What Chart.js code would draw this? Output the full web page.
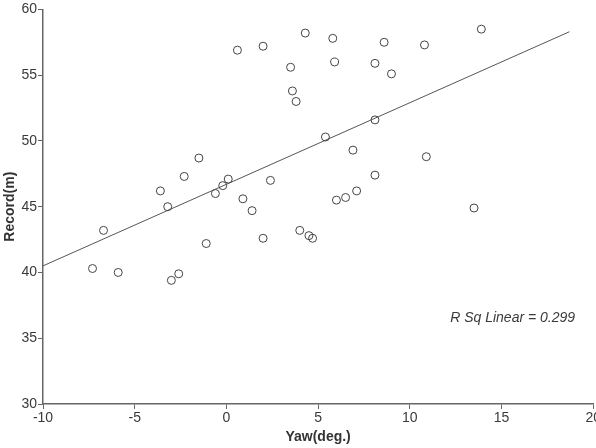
<!DOCTYPE html>
<html>
<head>
<meta charset="utf-8">
<script src="https://cdn.jsdelivr.net/npm/chart.js@4"></script>
<style>
  html, body { margin: 0; padding: 0; background: #fff; overflow: hidden; }
  #wrap { width: 602px; height: 448px; position: relative; }
</style>
</head>
<body>
<div id="wrap"><canvas id="chart"></canvas></div>
<script>
// yaw (deg.) and record (m)
const yaw = [
    -7.3, -6.7, -5.9, -3.6, -3.2, -3.0, -2.6, -2.3, -1.5, -1.1,
    -0.6, -0.2, 0.1, 0.6, 0.9, 1.4, 2.0, 2.0, 2.4, 3.5,
    3.6, 3.8, 4.0, 4.3, 4.5, 4.7, 5.4, 5.8, 5.9, 6.0,
    6.5, 6.9, 7.1, 8.1, 8.1, 8.1, 8.6, 9.0, 10.8, 10.9,
    13.5, 13.9
];
const record = [
    40.3, 43.2, 40.0, 46.2, 45.0, 39.4, 39.9, 47.3, 48.7, 42.2,
    46.0, 46.6, 47.1, 56.9, 45.6, 44.7, 57.2, 42.6, 47.0, 55.6,
    53.8, 53.0, 43.2, 58.2, 42.8, 42.6, 50.3, 57.8, 56.0, 45.5,
    45.7, 49.3, 46.2, 55.9, 51.6, 47.4, 57.5, 55.1, 57.3, 48.8,
    44.9, 58.5
];
// fitted line end points
const fitX = [-10, 18.7];
const fitY = [40.5, 58.3];
const xTicks = [-10, -5, 0, 5, 10, 15, 20];
const yTicks = [30, 35, 40, 45, 50, 55, 60];
const rsqText = "R Sq Linear = 0.299";
const rsqAt = { x: 12.2, y: 36.5 };

const ink = "#3a3a3a";
const font = "'Liberation Sans', Arial, sans-serif";

const rsqLabel = {
    id: "rsqLabel",
    afterDatasetsDraw(chart) {
        const c = chart.ctx;
        const x = chart.scales.x.getPixelForValue(rsqAt.x);
        const y = chart.scales.y.getPixelForValue(rsqAt.y);
        c.save();
        c.font = "italic 14px " + font;
        c.fillStyle = ink;
        c.textAlign = "left";
        c.textBaseline = "middle";
        c.fillText(rsqText, x, y);
        c.restore();
    },
};

var ctx = document.getElementById("chart");
var chart = new Chart(ctx, {
    type: "scatter",
    data: {
        datasets: [
            {
                label: "Record",
                data: yaw.map((v, i) => ({ x: v, y: record[i] })),
                pointStyle: "circle",
                pointRadius: 4,
                pointBorderWidth: 1,
                borderColor: "#444",
                backgroundColor: "rgba(0,0,0,0)",
            },
            {
                label: "Linear",
                type: "line",
                data: fitX.map((v, i) => ({ x: v, y: fitY[i] })),
                borderColor: "#555",
                borderWidth: 1,
                pointRadius: 0,
                fill: false,
            },
        ],
    },
    options: {
        animation: false,
        responsive: true,
        maintainAspectRatio: false,
        layout: { padding: { top: 7, right: 0, left: 0, bottom: 0 } },
        scales: {
            x: {
                type: "linear",
                min: -10,
                max: 20,
                afterBuildTicks: (s) => { s.ticks = xTicks.map((v) => ({ value: v })); },
                afterFit: (s) => { s.height = 44; },
                border: { display: true, color: "#666", width: 1.5 },
                grid: { drawOnChartArea: false, drawTicks: true, tickLength: 5, color: "#666" },
                ticks: {
                    color: ink,
                    padding: 1,
                    maxRotation: 0,
                    font: { family: font, size: 14 },
                },
                title: {
                    display: true,
                    text: "Yaw(deg.)",
                    color: "#333",
                    padding: { top: 0, bottom: 2 },
                    font: { family: font, size: 14, weight: "bold" },
                },
            },
            y: {
                min: 30,
                max: 60,
                afterBuildTicks: (s) => { s.ticks = yTicks.map((v) => ({ value: v })); },
                afterFit: (s) => { s.width = 43; },
                border: { display: true, color: "#666", width: 1.5 },
                grid: { drawOnChartArea: false, drawTicks: true, tickLength: 5, color: "#666" },
                ticks: {
                    color: ink,
                    padding: 1,
                    font: { family: font, size: 14 },
                },
                title: {
                    display: true,
                    text: "Record(m)",
                    color: "#333",
                    padding: { top: 2, bottom: 0 },
                    font: { family: font, size: 14, weight: "bold" },
                },
            },
        },
        plugins: {
            legend: { display: false },
            tooltip: { enabled: false },
        },
    },
    plugins: [rsqLabel],
});
</script>
</body>
</html>
